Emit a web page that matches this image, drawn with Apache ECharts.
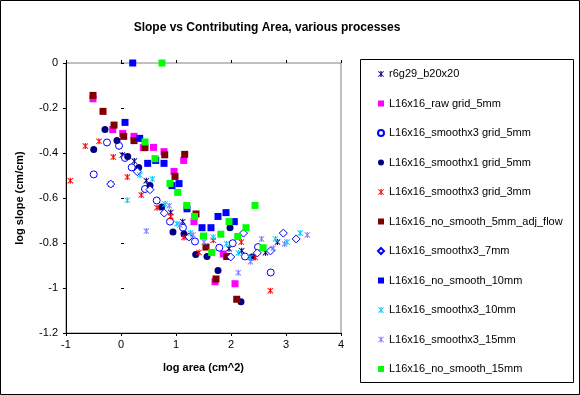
<!DOCTYPE html>
<html>
<head>
<meta charset="utf-8">
<script src="https://cdn.jsdelivr.net/npm/echarts@6/dist/echarts.min.js"></script>
<style>
html,body{margin:0;padding:0;background:#fff;}
#chart{width:580px;height:395px;}
</style>
</head>
<body>
<div id="chart"></div>
<script>
const seriesNames = [
  'r6g29_b20x20',
  'L16x16_raw grid_5mm',
  'L16x16_smoothx3 grid_5mm',
  'L16x16_smoothx1 grid_5mm',
  'L16x16_smoothx3 grid_3mm',
  'L16x16_no_smooth_5mm_adj_flow',
  'L16x16_smoothx3_7mm',
  'L16x16_no_smooth_10mm',
  'L16x16_smoothx3_10mm',
  'L16x16_smoothx3_15mm',
  'L16x16_no_smooth_15mm'
];

const r6g29 = [[0.024,-0.409],[0.242,-0.436],[0.46,-0.523],[-0.187,-0.538],[0.904,-0.664],[1.122,-0.705],[1.964,-0.825],[2.195,-0.834],[2.627,-0.843],[2.845,-0.796]];
const rawGrid5 = [[-0.509,-0.159],[-0.151,-0.296],[0.031,-0.313],[0.236,-0.326],[0.405,-0.376],[0.591,-0.375],[0.782,-0.394],[1.14,-0.433],[0.964,-0.482],[1.327,-0.705],[1.86,-0.849],[1.709,-0.972],[2.073,-0.981]];
const smoothx3Grid5 = [[-0.255,-0.353],[-0.036,-0.368],[-0.496,-0.495],[0.073,-0.422],[0.195,-0.464],[0.436,-0.56],[0.649,-0.611],[0.891,-0.705],[1.127,-0.732],[1.345,-0.793],[2.031,-0.801],[2.255,-0.86],[2.491,-0.818],[2.722,-0.931],[1.787,-0.821]];
const smoothx1Grid5 = [[-0.291,-0.295],[-0.073,-0.344],[-0.496,-0.384],[0.122,-0.415],[0.322,-0.464],[0.527,-0.544],[0.74,-0.64],[0.945,-0.751],[1.145,-0.76],[1.358,-0.851],[1.564,-0.86],[1.982,-0.732],[2.382,-0.862],[1.764,-0.922],[2.182,-1.061]];
const smoothx3Grid3 = [[-0.922,-0.523],[-0.649,-0.369],[-0.4,-0.348],[-0.14,-0.418],[0.115,-0.507],[0.369,-0.587],[0.655,-0.643],[0.904,-0.682],[1.145,-0.775],[1.418,-0.842],[1.678,-0.788],[2.187,-0.796],[2.442,-0.864],[2.715,-1.012]];
const noSmooth5Adj = [[-0.509,-0.144],[-0.327,-0.215],[-0.127,-0.276],[0.049,-0.326],[0.236,-0.345],[0.436,-0.376],[0.795,-0.408],[1.158,-0.406],[0.982,-0.504],[1.364,-0.671],[1.545,-0.818],[1.922,-0.86],[1.727,-0.96],[2.104,-1.05]];
const smoothx3_7 = [[0.296,-0.483],[0.527,-0.563],[0.787,-0.667],[1.236,-0.773],[2.227,-0.756],[1.995,-0.862],[2.478,-0.844],[2.718,-0.835],[2.951,-0.756],[3.185,-0.782],[-0.187,-0.538]];
const noSmooth10 = [[0.213,0],[0.073,-0.264],[0.34,-0.335],[0.631,-0.433],[0.485,-0.446],[0.782,-0.446],[0.927,-0.545],[1.055,-0.536],[1.2,-0.648],[1.473,-0.732],[1.636,-0.732],[1.764,-0.682],[1.909,-0.665],[2.06,-0.705]];
const smoothx3_10 = [[0.345,-0.498],[0.569,-0.516],[0.115,-0.61],[0.8,-0.627],[1.018,-0.714],[1.264,-0.756],[1.678,-0.774],[1.918,-0.803],[2.133,-0.844],[2.345,-0.864],[2.809,-0.782],[3.018,-0.796],[3.258,-0.756]];
const smoothx3_15 = [[0.46,-0.747],[0.878,-0.634],[1.073,-0.72],[1.309,-0.764],[1.509,-0.796],[2.133,-0.932],[2.355,-0.883],[2.555,-0.782],[2.769,-0.823],[2.973,-0.804],[3.387,-0.764]];
const noSmooth15 = [[0.745,0],[0.436,-0.351],[0.618,-0.425],[0.891,-0.535],[1.031,-0.575],[1.195,-0.633],[1.336,-0.682],[1.964,-0.705],[2.436,-0.633],[2.273,-0.732],[1.5,-0.769],[1.815,-0.761],[2.122,-0.771],[1.649,-0.842],[2.582,-0.821]];

const xTicks = [-1, 0, 1, 2, 3, 4];
const yTicks = [0, -0.2, -0.4, -0.6, -0.8, -1, -1.2];

const ASTER = 'path://M4,0L6,0L6,10L4,10Z M0,1L1,0L10,9L9,10Z M9,0L10,1L1,10L0,9Z';

const styles = [
  {symbol: ASTER, size: 6, fill: '#000080'},
  {symbol: 'rect', size: 7, fill: '#FF00FF'},
  {symbol: 'circle', size: 7, fill: '#ffffff', border: '#0000FF'},
  {symbol: 'circle', size: 7, fill: '#000080'},
  {symbol: ASTER, size: 6, fill: '#FF0000'},
  {symbol: 'rect', size: 7, fill: '#800000'},
  {symbol: 'diamond', size: 8, fill: '#ffffff', border: '#0000FF'},
  {symbol: 'rect', size: 7, fill: '#0000FF'},
  {symbol: ASTER, size: 6, fill: '#00CCFF'},
  {symbol: ASTER, size: 6, fill: '#8080FF'},
  {symbol: 'rect', size: 7, fill: '#00FF00'}
];
const dataSets = [r6g29, rawGrid5, smoothx3Grid5, smoothx1Grid5, smoothx3Grid3, noSmooth5Adj, smoothx3_7, noSmooth10, smoothx3_10, smoothx3_15, noSmooth15];

const series = seriesNames.map((name, i) => {
  const s = styles[i];
  const itemStyle = {color: s.fill, opacity: 1};
  if (s.border) { itemStyle.borderColor = s.border; itemStyle.borderWidth = 1; }
  return {
    name: name,
    type: 'scatter',
    symbol: s.symbol,
    symbolSize: s.size,
    data: dataSets[i],
    itemStyle: itemStyle,
    emphasis: {disabled: true},
    z: 3
  };
});

const fmt = v => String(Math.round(v * 10) / 10);
const FONT = '"Liberation Sans", Arial, sans-serif';

const chart = echarts.init(document.getElementById('chart'), null, {renderer: 'canvas'});
chart.setOption({
  animation: false,
  backgroundColor: '#ffffff',
  textStyle: {fontFamily: FONT},
  title: {
    text: 'Slope vs Contributing Area, various processes',
    left: 262, top: 17, textAlign: 'center',
    textStyle: {fontFamily: FONT, fontSize: 12, fontWeight: 'bold', color: '#000'}
  },
  grid: {left: 66, top: 63, right: 239, bottom: 62, show: true, borderColor: '#808080', borderWidth: 1, backgroundColor: '#ffffff'},
  legend: {
    orient: 'vertical',
    left: 377, top: 67,
    padding: 0,
    itemWidth: 6, itemHeight: 6,
    itemGap: 15.5,
    data: seriesNames,
    selectedMode: false,
    textStyle: {fontFamily: FONT, fontSize: 11, color: '#000', lineHeight: 14}
  },
  xAxis: [{
    type: 'value', min: xTicks[0], max: xTicks[xTicks.length - 1], interval: 1,
    name: 'log area (cm^2)', nameLocation: 'middle', nameGap: 29,
    nameTextStyle: {fontFamily: FONT, fontSize: 11, fontWeight: 'bold', color: '#000'},
    axisLine: {show: true, onZero: false, lineStyle: {color: '#000', width: 1}},
    axisTick: {show: true, inside: false, length: 3, lineStyle: {color: '#000'}},
    axisLabel: {fontFamily: FONT, fontSize: 11, color: '#000', margin: 6, formatter: fmt},
    splitLine: {show: false}
  }, {
    type: 'value', min: xTicks[0], max: xTicks[xTicks.length - 1], interval: 1, position: 'bottom',
    axisLine: {show: false},
    axisTick: {show: true, inside: true, length: 3, lineStyle: {color: '#000'}},
    axisLabel: {show: false}, splitLine: {show: false}
  }],
  yAxis: [{
    type: 'value', min: yTicks[yTicks.length - 1], max: yTicks[0], interval: 0.2,
    name: 'log slope (cm/cm)', nameLocation: 'middle', nameGap: 41, nameRotate: 90,
    nameTextStyle: {fontFamily: FONT, fontSize: 11, fontWeight: 'bold', color: '#000'},
    axisLine: {show: true, onZero: false, lineStyle: {color: '#000', width: 1}},
    axisTick: {show: true, inside: false, length: 3, lineStyle: {color: '#000'}},
    axisLabel: {fontFamily: FONT, fontSize: 11, color: '#000', margin: 8, formatter: fmt},
    splitLine: {show: false}
  }, {
    type: 'value', min: yTicks[yTicks.length - 1], max: yTicks[0], interval: 0.2, position: 'left',
    axisLine: {show: false},
    axisTick: {show: true, inside: true, length: 3, lineStyle: {color: '#000'}},
    axisLabel: {show: false}, splitLine: {show: false}
  }],
  graphic: [
    {type: 'rect', shape: {x: 0.5, y: 0.5, width: 579, height: 394}, style: {fill: 'none', stroke: '#000', lineWidth: 1}, silent: true, z: -1},
    {type: 'rect', shape: {x: 360.5, y: 59.5, width: 213, height: 323}, style: {fill: 'none', stroke: '#000', lineWidth: 1}, silent: true}
  ],
  series: series
});
</script>
</body>
</html>
